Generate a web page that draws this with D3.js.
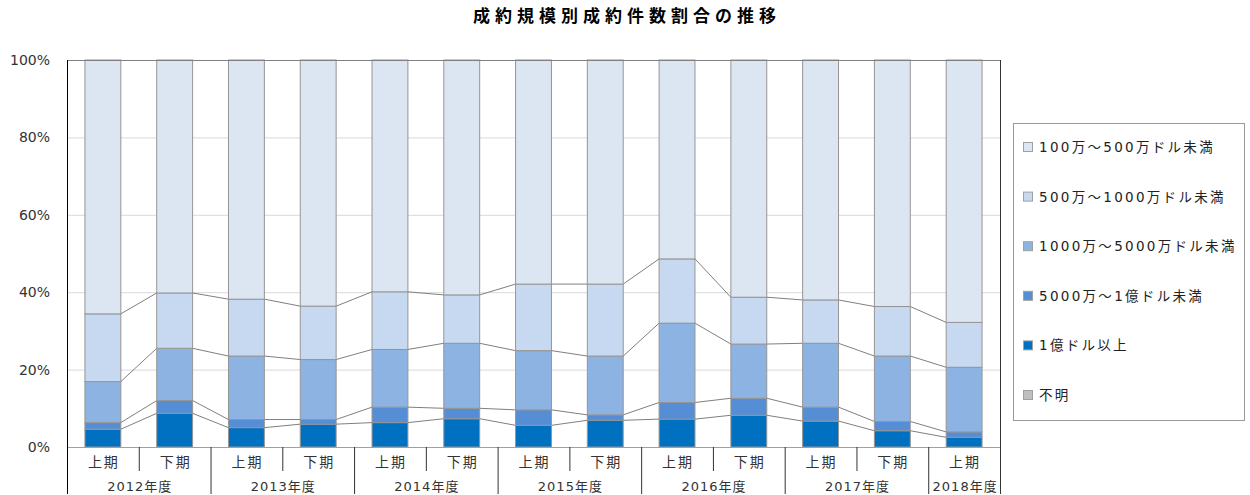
<!DOCTYPE html>
<html lang="ja">
<head>
<meta charset="utf-8">
<title>成約規模別成約件数割合の推移</title>
<script src="https://cdn.jsdelivr.net/npm/d3@7"></script>
<style>
  body { margin: 0; background: #fff; }
  svg { display: block; font-family: "DejaVu Sans", "Noto Sans CJK JP", sans-serif; }
</style>
</head>
<body>
<script>
// カテゴリ
var halves = ['上期','下期','上期','下期','上期','下期','上期','下期','上期','下期','上期','下期','上期'];
var years = ['2012年度','2013年度','2014年度','2015年度','2016年度','2017年度','2018年度'];
var yearSpan = [2, 2, 2, 2, 2, 2, 1];

// 系列（%）下から積み上げ
var over100m   = [4.6, 8.7, 5.0, 5.9, 6.3, 7.3, 5.6, 6.9, 7.2, 8.2, 6.7, 4.2, 2.5];
var m50to100   = [1.7, 3.3, 2.1, 1.2, 4.0, 2.7, 4.0, 1.4, 4.3, 4.4, 3.6, 2.4, 1.4];
var m10to50    = [10.6, 13.5, 16.4, 15.5, 14.9, 16.8, 15.3, 15.2, 20.5, 14.0, 16.5, 16.9, 16.7];
var m5to10     = [17.5, 14.3, 14.7, 13.8, 14.9, 12.5, 17.2, 18.6, 16.6, 12.1, 11.2, 12.8, 11.6];
var m1to5      = [65.6, 60.2, 61.8, 63.6, 59.9, 60.7, 57.9, 57.9, 51.4, 61.3, 62.0, 63.7, 67.8];
var unknown    = [0, 0, 0, 0, 0, 0, 0, 0, 0, 0, 0, 0, 0];

var yTicks = [0, 20, 40, 60, 80, 100];

var series = [
  { name: '1億ドル以上', values: over100m, color: '#0070c0' },
  { name: '5000万〜1億ドル未満', values: m50to100, color: '#558ed5' },
  { name: '1000万〜5000万ドル未満', values: m10to50, color: '#8db3e2' },
  { name: '500万〜1000万ドル未満', values: m5to10, color: '#c6d9f1' },
  { name: '100万〜500万ドル未満', values: m1to5, color: '#dce6f2' },
  { name: '不明', values: unknown, color: '#bfbfbf' }
];
var legendOrder = [4, 3, 2, 1, 0, 5];

var W = 1250, H = 495;
var pLeft = 67, pRight = 1000, pTop = 60, pBottom = 447;

var svg = d3.select('body').append('svg')
  .attr('width', W).attr('height', H);

var x = d3.scaleBand()
  .domain(d3.range(halves.length))
  .range([pLeft, pRight])
  .paddingInner(0.5)
  .paddingOuter(0.25);

var y = d3.scaleLinear().domain([0, 100]).range([pBottom, pTop]);

// 積み上げデータ
var rows = halves.map(function (h, i) {
  var r = { i: i };
  series.forEach(function (s, k) { r['s' + k] = s.values[i]; });
  return r;
});
var stack = d3.stack().keys(series.map(function (s, k) { return 's' + k; }));
var stacked = stack(rows);

// タイトル
svg.append('text')
  .attr('x', 627).attr('y', 22)
  .attr('text-anchor', 'middle')
  .style('font-family', '"Noto Sans CJK JP", sans-serif')
  .style('font-size', '17px').style('font-weight', 'bold')
  .style('letter-spacing', '5px')
  .attr('fill', '#000')
  .text('成約規模別成約件数割合の推移');

// グリッド線
svg.append('g').selectAll('line')
  .data(yTicks.filter(function (t) { return t > 0 && t < 100; }))
  .enter().append('line')
  .attr('x1', pLeft).attr('x2', pRight)
  .attr('y1', function (d) { return y(d) + 0.5; })
  .attr('y2', function (d) { return y(d) + 0.5; })
  .attr('stroke', '#d9d9d9').attr('stroke-width', 1);

// Y軸ラベル
svg.append('g').selectAll('text')
  .data(yTicks)
  .enter().append('text')
  .attr('x', 50)
  .attr('y', function (d) { return y(d) + 5; })
  .attr('text-anchor', 'end')
  .style('font-size', '14px')
  .attr('fill', '#333')
  .text(function (d) { return d + '%'; });

// 系列線
var connectors = svg.append('g');
for (var k = 0; k < 4; k++) {
  for (var i = 0; i < halves.length - 1; i++) {
    connectors.append('line')
      .attr('x1', x(i) + x.bandwidth())
      .attr('x2', x(i + 1))
      .attr('y1', y(stacked[k][i][1]))
      .attr('y2', y(stacked[k][i + 1][1]))
      .attr('stroke', '#7f7f7f').attr('stroke-width', 1);
  }
}

// 棒
svg.append('g').selectAll('g')
  .data(stacked)
  .enter().append('g')
  .attr('fill', function (d, k) { return series[k].color; })
  .selectAll('rect')
  .data(function (d) { return d; })
  .enter().append('rect')
  .attr('x', function (d, i) { return x(i); })
  .attr('width', x.bandwidth())
  .attr('y', function (d) { return y(d[1]); })
  .attr('height', function (d) { return y(d[0]) - y(d[1]); })
  .attr('stroke', function (d) { return d[1] - d[0] > 0 ? '#959595' : 'none'; })
  .attr('stroke-width', 1);

// 枠線
svg.append('line').attr('x1', pLeft).attr('x2', pRight).attr('y1', pTop + 0.5).attr('y2', pTop + 0.5)
  .attr('stroke', '#808080');
svg.append('line').attr('x1', pLeft).attr('x2', pRight).attr('y1', pBottom + 0.5).attr('y2', pBottom + 0.5)
  .attr('stroke', '#a0a0a0');
svg.append('line').attr('x1', pLeft + 0.5).attr('x2', pLeft + 0.5).attr('y1', pTop).attr('y2', 494)
  .attr('stroke', '#000');
svg.append('line').attr('x1', pRight + 0.5).attr('x2', pRight + 0.5).attr('y1', pTop).attr('y2', 494)
  .attr('stroke', '#333');

// X軸（2段）
var step = x.step();
var xa = svg.append('g');
xa.selectAll('text.half')
  .data(halves)
  .enter().append('text')
  .attr('class', 'half')
  .attr('x', function (d, i) { return x(i) + x.bandwidth() / 2 + 1; })
  .attr('y', 467)
  .attr('text-anchor', 'middle')
  .style('font-size', '14px')
  .style('letter-spacing', '2px')
  .attr('fill', '#333')
  .text(function (d) { return d; });

var pos = 0;
years.forEach(function (yr, j) {
  var x0 = pLeft + pos * step;
  var x1 = pLeft + (pos + yearSpan[j]) * step;
  xa.append('text')
    .attr('x', (x0 + x1) / 2 + 1).attr('y', 491)
    .attr('text-anchor', 'middle')
    .style('font-size', '13px')
    .style('letter-spacing', '1px')
    .attr('fill', '#333')
    .text(yr);
  if (yearSpan[j] > 1) {
    xa.append('line')
      .attr('x1', x0 + step + 0.5).attr('x2', x0 + step + 0.5)
      .attr('y1', pBottom).attr('y2', 471)
      .attr('stroke', '#333');
  }
  if (j > 0) {
    xa.append('line')
      .attr('x1', x0 + 0.5).attr('x2', x0 + 0.5)
      .attr('y1', pBottom).attr('y2', 494)
      .attr('stroke', '#333');
  }
  pos += yearSpan[j];
});

// 凡例
var lg = svg.append('g');
lg.append('rect')
  .attr('x', 1013.5).attr('y', 123.5).attr('width', 231).attr('height', 297)
  .attr('fill', '#fff').attr('stroke', '#999');
lg.selectAll('g')
  .data(legendOrder)
  .enter().append('g')
  .attr('transform', function (d, n) { return 'translate(1023,' + (147 + n * 49.6) + ')'; })
  .each(function (k) {
    var g = d3.select(this);
    g.append('rect')
      .attr('x', 0.5).attr('y', -4.5).attr('width', 9).attr('height', 9)
      .attr('fill', series[k].color).attr('stroke', '#a0a0a0');
    g.append('text')
      .attr('x', 16).attr('y', 5)
      .style('font-size', '13.5px')
      .style('letter-spacing', '2.3px')
      .attr('fill', '#222')
      .text(series[k].name);
  });
</script>
</body>
</html>
